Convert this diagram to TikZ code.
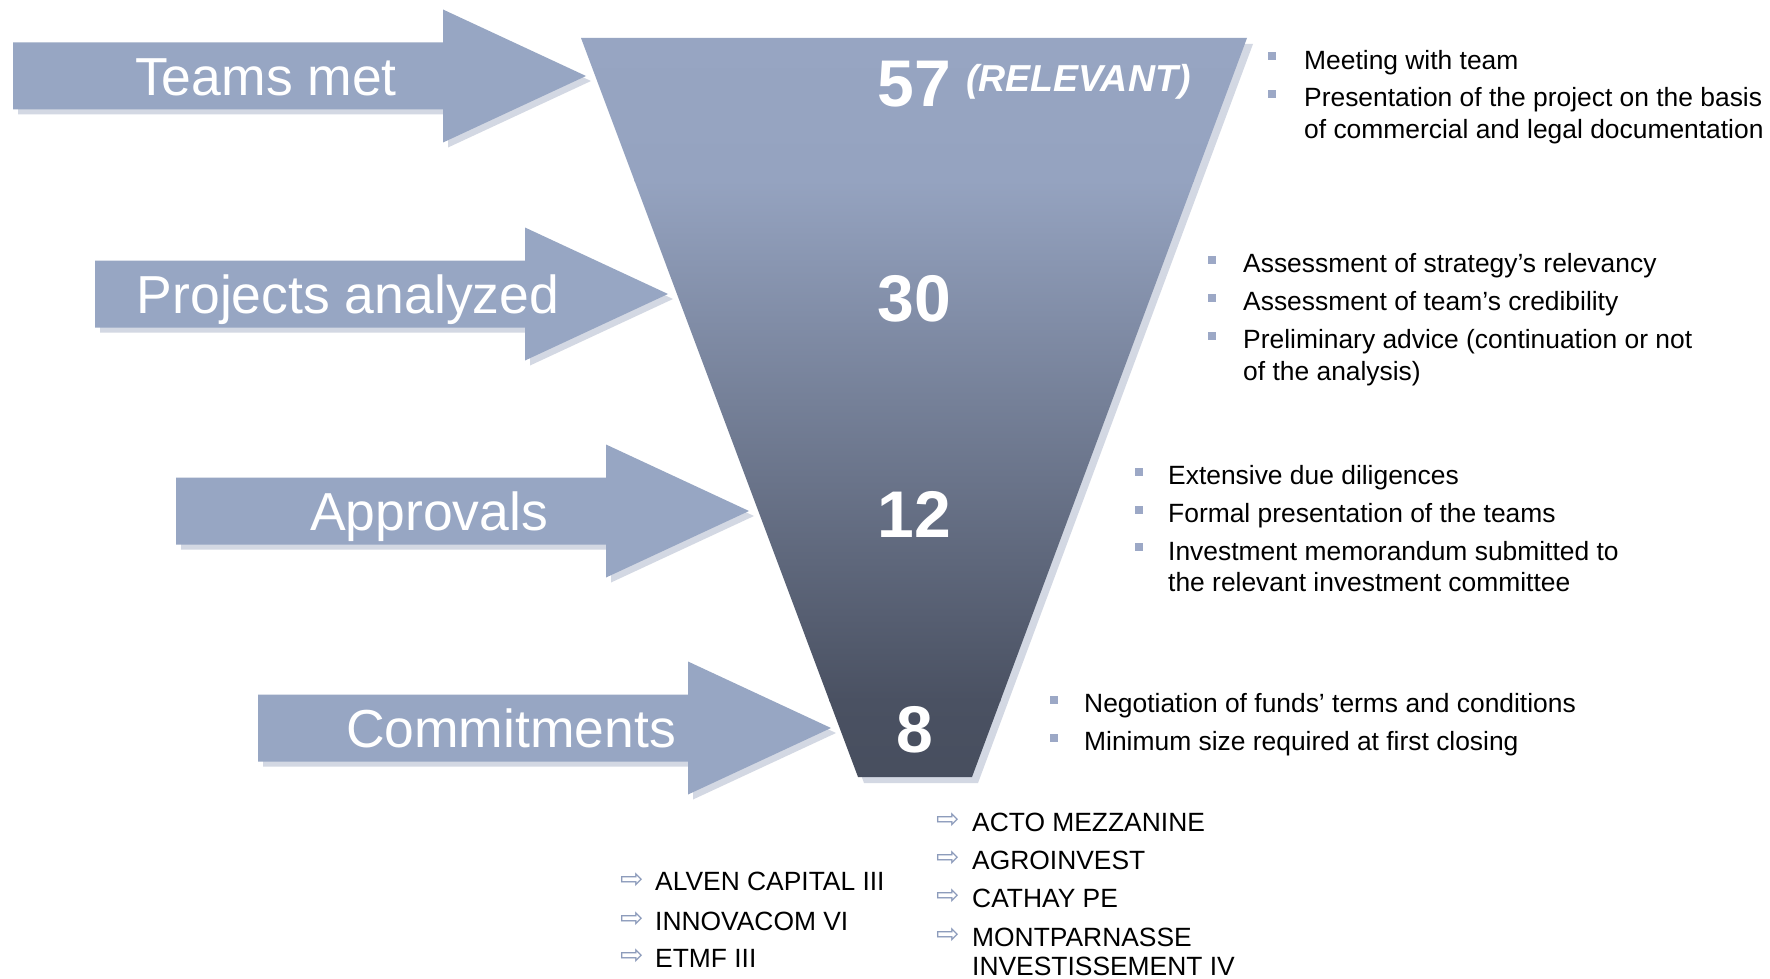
\documentclass[tikz,border=0pt]{standalone}
\usepackage{fontspec}
\setmainfont{Liberation Sans}
\newfontfamily\symfont{DejaVu Sans}
\definecolor{arrowblue}{HTML}{97A6C3}
\definecolor{shadowgrey}{HTML}{D3D8E3}
\definecolor{bulletblue}{HTML}{9CA8C6}
\definecolor{funnelA}{HTML}{97A5C2}
\definecolor{funnelA2}{HTML}{95A3C0}
\definecolor{funnelB}{HTML}{77829B}
\definecolor{funnelC}{HTML}{4A5162}
\definecolor{funnelD}{HTML}{474E5E}
\definecolor{listarrow}{HTML}{8C9BBB}
\begin{document}
\begin{tikzpicture}[x=1pt,y=-1pt,
  arrowbody/.style={fill=arrowblue},
  arrowshadow/.style={fill=shadowgrey},
  steplabel/.style={anchor=base,text=white,inner sep=0pt,font=\fontsize{53.5}{60}\selectfont},
  countlabel/.style={anchor=base,text=white,inner sep=0pt,font=\fontsize{66}{72}\selectfont\bfseries},
  notelabel/.style={anchor=base west,text=white,inner sep=0pt,font=\fontsize{37.5}{42}\selectfont\bfseries\itshape},
  itemtext/.style={anchor=base west,inner sep=0pt,font=\fontsize{26.4}{31.6}\selectfont},
  bulletsq/.style={fill=bulletblue,inner sep=0pt,minimum size=8.5pt},
  listmark/.style={anchor=base west,inner sep=0pt,text=listarrow,font=\symfont\fontsize{28}{30}\selectfont}]

\fill[white] (0,0) rectangle (1770,979);
\useasboundingbox (0,0) rectangle (1770,979);

% funnel corners
\coordinate (ftl) at (581,38);
\coordinate (ftr) at (1247,38);
\coordinate (fbr) at (972,777);
\coordinate (fbl) at (858,777);

% funnel shadow and body
\fill[arrowshadow] ([shift={(6,6)}]ftl) -- ([shift={(6,6)}]ftr) -- ([shift={(6,6)}]fbr) -- ([shift={(6,6)}]fbl) -- cycle;
\begin{scope}
  \clip (ftl) -- (ftr) -- (fbr) -- (fbl) -- cycle;
  \shade[top color=funnelA,bottom color=funnelA2] (570,30) rectangle (1260,181);
  \shade[top color=funnelA2,middle color=funnelB,bottom color=funnelC] (570,180) rectangle (1260,701);
  \shade[top color=funnelC,bottom color=funnelD] (570,700) rectangle (1260,790);
\end{scope}

% stage arrows: tip x, tip y, label, name
\foreach \tx/\ty/\lbl/\nm in {586/76/Teams met/stepA,
                               668/294/Projects analyzed/stepB,
                               749/511/Approvals/stepC,
                               831/728/Commitments/stepD}{
  \fill[arrowshadow,shift={(5,5)}] (\tx-573,\ty-33.5) -- (\tx-143,\ty-33.5) -- (\tx-143,\ty-66.5)
     -- (\tx,\ty) -- (\tx-143,\ty+66.5) -- (\tx-143,\ty+33.5) -- (\tx-573,\ty+33.5) -- cycle;
  \fill[arrowbody] (\tx-573,\ty-33.5) -- (\tx-143,\ty-33.5) -- (\tx-143,\ty-66.5)
     -- (\tx,\ty) -- (\tx-143,\ty+66.5) -- (\tx-143,\ty+33.5) -- (\tx-573,\ty+33.5) -- cycle;
  \node[steplabel] (\nm) at (\tx-320,\ty+19.5) {\lbl};
}

% counts inside the funnel
\node[countlabel] (nA) at (914.5,106.5) {57};
\node[notelabel] (nAnote) at (966,92) {(RELEVANT)};
\node[countlabel] (nB) at (914.5,321.7) {30};
\node[countlabel] (nC) at (914.5,537) {12};
\node[countlabel] (nD) at (914.5,752) {8};

% notes for stage 1
\node[bulletsq] (qA1) at (1272,56) {};
\node[itemtext] (tA1) at (1304,70) {Meeting with team};
\node[bulletsq] (qA2) at (1272,94) {};
\node[itemtext] (tA2) at (1304,107) {Presentation of the project on the basis};
\node[itemtext] (tA3) at (1304,139) {of commercial and legal documentation};

% notes for stage 2
\node[bulletsq] (qB1) at (1212,260) {};
\node[itemtext] (tB1) at (1243,272) {Assessment of strategy’s relevancy};
\node[bulletsq] (qB2) at (1212,298) {};
\node[itemtext] (tB2) at (1243,310) {Assessment of team’s credibility};
\node[bulletsq] (qB3) at (1212,336) {};
\node[itemtext] (tB3) at (1243,348) {Preliminary advice (continuation or not};
\node[itemtext] (tB4) at (1243,380) {of the analysis)};

% notes for stage 3
\node[bulletsq] (qC1) at (1139,472) {};
\node[itemtext] (tC1) at (1168,484) {Extensive due diligences};
\node[bulletsq] (qC2) at (1139,510) {};
\node[itemtext] (tC2) at (1168,522) {Formal presentation of the teams};
\node[bulletsq] (qC3) at (1139,547) {};
\node[itemtext] (tC3) at (1168,560) {Investment memorandum submitted to};
\node[itemtext] (tC4) at (1168,591) {the relevant investment committee};

% notes for stage 4
\node[bulletsq] (qD1) at (1054,700) {};
\node[itemtext] (tD1) at (1084,712) {Negotiation of funds’ terms and conditions};
\node[bulletsq] (qD2) at (1054,738) {};
\node[itemtext] (tD2) at (1084,750) {Minimum size required at first closing};

% committed funds, left column
\node[listmark] (mL1) at (620,888) {⇨};
\node[itemtext] (fL1) at (655,890.5) {ALVEN CAPITAL III};
\node[listmark] (mL2) at (620,927) {⇨};
\node[itemtext] (fL2) at (655,930) {INNOVACOM VI};
\node[listmark] (mL3) at (620,964) {⇨};
\node[itemtext] (fL3) at (655,967) {ETMF III};

% committed funds, right column
\node[listmark] (mR1) at (936,828) {⇨};
\node[itemtext] (fR1) at (972,831) {ACTO MEZZANINE};
\node[listmark] (mR2) at (936,866) {⇨};
\node[itemtext] (fR2) at (972,869) {AGROINVEST};
\node[listmark] (mR3) at (936,904.5) {⇨};
\node[itemtext] (fR3) at (972,907.5) {CATHAY PE};
\node[listmark] (mR4) at (936,943) {⇨};
\node[itemtext] (fR4) at (972,946) {MONTPARNASSE};
\node[itemtext] (fR5) at (972,975) {INVESTISSEMENT IV};

\end{tikzpicture}
\end{document}
